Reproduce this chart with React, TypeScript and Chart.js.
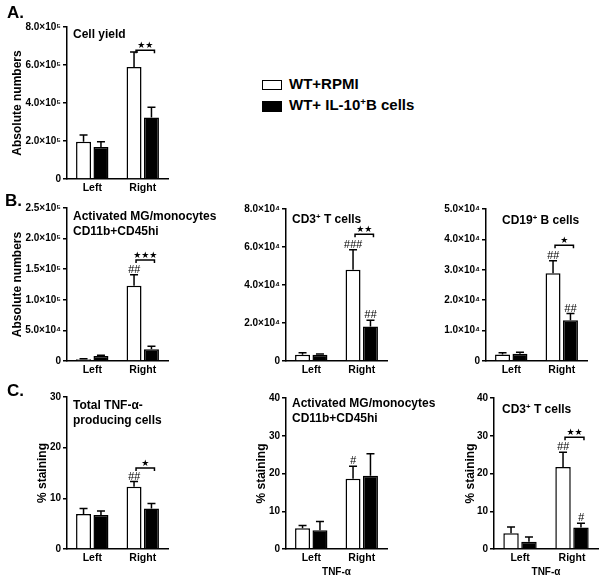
import React, { useEffect, useRef } from "react";
import { Chart, registerables } from "chart.js";

Chart.register(...registerables);

const FONT = "'Liberation Sans', Arial, Helvetica, sans-serif";

// ---------- data ----------
const categories = ["Left", "Right"];
const seriesNames = ["WT+RPMI", "WT+ IL-10+B cells"];

// A. Cell yield
const aRpmi = [1.96e5, 5.9e5];
const aRpmiSem = [0.35e5, 0.79e5];
const aIl10 = [1.68e5, 3.24e5];
const aIl10Sem = [0.28e5, 0.53e5];
const aTickLabels = ["0", "2.0×10⁵", "4.0×10⁵", "6.0×10⁵", "8.0×10⁵"];

// B1. Activated MG/monocytes
const b1Rpmi = [3.0e3, 1.23e5];
const b1RpmiSem = [0.8e3, 1.8e4];
const b1Il10 = [8.0e3, 1.9e4];
const b1Il10Sem = [1.2e3, 5.0e3];
const b1TickLabels = ["0", "5.0×10⁴", "1.0×10⁵", "1.5×10⁵", "2.0×10⁵", "2.5×10⁵"];

// B2. CD3+ T cells
const b2Rpmi = [3.3e3, 4.8e4];
const b2RpmiSem = [1.1e3, 1.06e4];
const b2Il10 = [3.3e3, 1.82e4];
const b2Il10Sem = [0.4e3, 3.2e3];
const b2TickLabels = ["0", "2.0×10⁴", "4.0×10⁴", "6.0×10⁴", "8.0×10⁴"];

// B3. CD19+ B cells
const b3Rpmi = [2.1e3, 2.89e4];
const b3RpmiSem = [0.6e3, 4.1e3];
const b3Il10 = [2.4e3, 1.34e4];
const b3Il10Sem = [0.5e3, 2.2e3];
const b3TickLabels = ["0", "1.0×10⁴", "2.0×10⁴", "3.0×10⁴", "4.0×10⁴", "5.0×10⁴"];

// C1. Total TNF-a producing cells (% staining)
const c1Rpmi = [6.9, 12.3];
const c1RpmiSem = [1.1, 1.0];
const c1Il10 = [6.7, 8.0];
const c1Il10Sem = [0.8, 1.0];
const c1TickLabels = ["0", "10", "20", "30"];

// C2. Activated MG/monocytes TNF-a
const c2Rpmi = [5.5, 18.6];
const c2RpmiSem = [0.7, 3.3];
const c2Il10 = [5.0, 19.4];
const c2Il10Sem = [2.3, 5.8];
const c2TickLabels = ["0", "10", "20", "30", "40"];

// C3. CD3+ T cells TNF-a
const c3Rpmi = [4.2, 21.7];
const c3RpmiSem = [1.6, 3.9];
const c3Il10 = [1.95, 5.7];
const c3Il10Sem = [1.25, 1.1];
const c3TickLabels = ["0", "10", "20", "30", "40"];

type Box = { l: number; t: number; w: number; h: number };
type Area = { l: number; r: number; t: number; b: number };

type PanelProps = {
  box: Box;
  area: Area;
  rpmi: number[];
  rpmiSem: number[];
  il10: number[];
  il10Sem: number[];
  max: number;
  step: number;
  tickLabels: string[];
  yTitle?: { text: string; cx: number };
  xTitle?: string;
  rpmiMarks: string[];
  il10Marks: string[];
  sig?: { y: number; text: string };
};

function Panel(p: PanelProps) {
  const ref = useRef<HTMLCanvasElement | null>(null);
  useEffect(() => {
    if (!ref.current) return;
    const { box, area } = p;
    const annot = {
      id: "annot",
      afterDatasetsDraw(chart: any) {
        const ctx = chart.ctx as CanvasRenderingContext2D;
        const ys = chart.scales.y;
        ctx.save();
        ctx.strokeStyle = "#000";
        ctx.fillStyle = "#000";
        ctx.lineWidth = 1.5;
        const sets: [number[], number[], string[]][] = [
          [p.rpmi, p.rpmiSem, p.rpmiMarks],
          [p.il10, p.il10Sem, p.il10Marks],
        ];
        sets.forEach(([vals, sems, marks], di) => {
          const meta = chart.getDatasetMeta(di);
          meta.data.forEach((bar: any, i: number) => {
            const x = bar.x;
            const yTop = ys.getPixelForValue(vals[i]);
            const yErr = ys.getPixelForValue(vals[i] + sems[i]);
            ctx.beginPath();
            ctx.moveTo(x, yTop);
            ctx.lineTo(x, yErr);
            ctx.moveTo(x - 4, yErr);
            ctx.lineTo(x + 4, yErr);
            ctx.stroke();
            if (marks[i]) {
              ctx.font = `italic 11px ${FONT}`;
              ctx.textAlign = "center";
              ctx.textBaseline = "alphabetic";
              ctx.fillText(marks[i], x, yErr - 2);
            }
          });
        });
        if (p.sig) {
          const b0 = chart.getDatasetMeta(0).data[1];
          const b1 = chart.getDatasetMeta(1).data[1];
          const x0 = b0.x + 2;
          const x1 = b1.x + 3;
          const yb = ys.getPixelForValue(p.sig.y);
          ctx.beginPath();
          ctx.moveTo(x0, yb + 3);
          ctx.lineTo(x0, yb);
          ctx.lineTo(x1, yb);
          ctx.lineTo(x1, yb + 3);
          ctx.stroke();
          ctx.font = `9px 'DejaVu Sans', sans-serif`;
          ctx.textAlign = "center";
          ctx.textBaseline = "alphabetic";
          ctx.fillText(p.sig.text, (x0 + x1) / 2, yb - 2);
        }
        ctx.restore();
      },
    };

    const chart = new Chart(ref.current, {
      type: "bar",
      data: {
        labels: categories,
        datasets: [
          {
            label: seriesNames[0],
            data: p.rpmi,
            backgroundColor: "#ffffff",
            borderColor: "#000000",
            borderWidth: 1.5,
            categoryPercentage: 0.69,
            barPercentage: 0.86,
          },
          {
            label: seriesNames[1],
            data: p.il10,
            backgroundColor: "#000000",
            borderColor: "#000000",
            borderWidth: 1.5,
            categoryPercentage: 0.69,
            barPercentage: 0.86,
          },
        ],
      },
      options: {
        animation: false,
        responsive: false,
        maintainAspectRatio: false,
        devicePixelRatio: 1,
        events: [],
        layout: {
          autoPadding: false,
          padding: {
            left: 0,
            top: area.t - box.t,
            right: box.l + box.w - area.r,
            bottom: 0,
          },
        },
        plugins: {
          legend: { display: false },
          tooltip: { enabled: false },
          title: { display: false },
        },
        scales: {
          x: {
            type: "category",
            offset: true,
            grid: { display: false, drawTicks: false },
            border: { display: true, color: "#000", width: 1.5 },
            ticks: {
              color: "#000",
              font: { family: FONT, size: 10.5, weight: "bold" },
              padding: 3,
              maxRotation: 0,
              autoSkip: false,
            },
            title: p.xTitle
              ? {
                  display: true,
                  text: p.xTitle,
                  color: "#000",
                  font: { family: FONT, size: 10, weight: "bold" },
                  padding: { top: 0, bottom: 4 },
                }
              : { display: false },
            afterFit: (s: any) => {
              s.height = box.t + box.h - area.b;
            },
          },
          y: {
            type: "linear",
            min: 0,
            max: p.max,
            ticks: {
              stepSize: p.step,
              color: "#000",
              font: { family: FONT, size: 10, weight: "bold" },
              padding: 2,
              callback: (_v: any, i: number) => p.tickLabels[i] ?? "",
            },
            grid: {
              drawOnChartArea: false,
              drawTicks: true,
              tickLength: 4,
              color: "#000",
              lineWidth: 1.5,
            },
            border: { display: true, color: "#000", width: 1.5 },
            title: p.yTitle
              ? {
                  display: true,
                  text: p.yTitle.text,
                  color: "#000",
                  font: { family: FONT, size: 12, weight: "bold" },
                  padding: { top: p.yTitle.cx - box.l - 7.2, bottom: 0 },
                }
              : { display: false },
            afterFit: (s: any) => {
              s.width = area.l - box.l;
            },
          },
        },
      } as any,
      plugins: [annot],
    });
    return () => chart.destroy();
  }, []);
  const { box } = p;
  return (
    <canvas
      ref={ref}
      width={box.w}
      height={box.h}
      style={{ position: "absolute", left: box.l, top: box.t, width: box.w, height: box.h }}
    />
  );
}

const sup = (t: string) => (
  <span style={{ fontSize: "0.65em", position: "relative", top: "-0.55em" }}>{t}</span>
);

function Txt(props: { x: number; y: number; size: number; lh?: number; children: any }) {
  return (
    <div
      style={{
        position: "absolute",
        left: props.x,
        top: props.y,
        fontFamily: FONT,
        fontWeight: "bold",
        fontSize: props.size,
        lineHeight: `${props.lh ?? props.size + 3}px`,
        whiteSpace: "nowrap",
        color: "#000",
      }}
    >
      {props.children}
    </div>
  );
}

export default function App() {
  return (
    <div style={{ position: "absolute", left: 0, top: 0, width: 604, height: 582, background: "#fff", overflow: "hidden" }}>
      <Panel
        box={{ l: 0, t: 10, w: 200, h: 185 }}
        area={{ l: 67, r: 168, t: 27, b: 179 }}
        rpmi={aRpmi} rpmiSem={aRpmiSem} il10={aIl10} il10Sem={aIl10Sem}
        max={8e5} step={2e5} tickLabels={aTickLabels}
        yTitle={{ text: "Absolute numbers", cx: 17.5 }}
        rpmiMarks={["", ""]} il10Marks={["", ""]}
        sig={{ y: 6.78e5, text: "★★" }}
      />
      <Panel
        box={{ l: 0, t: 195, w: 200, h: 185 }}
        area={{ l: 67, r: 168, t: 208, b: 361 }}
        rpmi={b1Rpmi} rpmiSem={b1RpmiSem} il10={b1Il10} il10Sem={b1Il10Sem}
        max={2.5e5} step={5e4} tickLabels={b1TickLabels}
        yTitle={{ text: "Absolute numbers", cx: 17.5 }}
        rpmiMarks={["", "##"]} il10Marks={["", ""]}
        sig={{ y: 1.65e5, text: "★★★" }}
      />
      <Panel
        box={{ l: 200, t: 195, w: 200, h: 185 }}
        area={{ l: 286, r: 387, t: 209, b: 361 }}
        rpmi={b2Rpmi} rpmiSem={b2RpmiSem} il10={b2Il10} il10Sem={b2Il10Sem}
        max={8e4} step={2e4} tickLabels={b2TickLabels}
        rpmiMarks={["", "###"]} il10Marks={["", "##"]}
        sig={{ y: 6.67e4, text: "★★" }}
      />
      <Panel
        box={{ l: 400, t: 195, w: 204, h: 185 }}
        area={{ l: 486, r: 587, t: 209, b: 361 }}
        rpmi={b3Rpmi} rpmiSem={b3RpmiSem} il10={b3Il10} il10Sem={b3Il10Sem}
        max={5e4} step={1e4} tickLabels={b3TickLabels}
        rpmiMarks={["", "##"]} il10Marks={["", "##"]}
        sig={{ y: 3.81e4, text: "★" }}
      />
      <Panel
        box={{ l: 0, t: 385, w: 200, h: 197 }}
        area={{ l: 67, r: 168, t: 397, b: 549 }}
        rpmi={c1Rpmi} rpmiSem={c1RpmiSem} il10={c1Il10} il10Sem={c1Il10Sem}
        max={30} step={10} tickLabels={c1TickLabels}
        yTitle={{ text: "% staining", cx: 43 }}
        rpmiMarks={["", "##"]} il10Marks={["", ""]}
        sig={{ y: 16.0, text: "★" }}
      />
      <Panel
        box={{ l: 200, t: 385, w: 200, h: 197 }}
        area={{ l: 286, r: 387, t: 398, b: 549 }}
        rpmi={c2Rpmi} rpmiSem={c2RpmiSem} il10={c2Il10} il10Sem={c2Il10Sem}
        max={40} step={10} tickLabels={c2TickLabels}
        yTitle={{ text: "% staining", cx: 262 }}
        xTitle="TNF-α"
        rpmiMarks={["", "#"]} il10Marks={["", ""]}
      />
      <Panel
        box={{ l: 400, t: 385, w: 204, h: 197 }}
        area={{ l: 494, r: 598, t: 398, b: 549 }}
        rpmi={c3Rpmi} rpmiSem={c3RpmiSem} il10={c3Il10} il10Sem={c3Il10Sem}
        max={40} step={10} tickLabels={c3TickLabels}
        yTitle={{ text: "% staining", cx: 471 }}
        xTitle="TNF-α"
        rpmiMarks={["", "##"]} il10Marks={["", "#"]}
        sig={{ y: 29.6, text: "★★" }}
      />

      {/* panel letters */}
      <Txt x={7} y={3} size={17} lh={20}>A.</Txt>
      <Txt x={5} y={191} size={17} lh={20}>B.</Txt>
      <Txt x={7} y={381} size={17} lh={20}>C.</Txt>

      {/* panel titles */}
      <Txt x={73} y={27} size={12}>Cell yield</Txt>
      <Txt x={73} y={209} size={12} lh={15}>
        Activated MG/monocytes
        <br />
        CD11b+CD45hi
      </Txt>
      <Txt x={292} y={212} size={12}>CD3{sup("+")} T cells</Txt>
      <Txt x={502} y={213} size={12}>CD19{sup("+")} B cells</Txt>
      <Txt x={73} y={398} size={12} lh={15}>
        Total TNF-α-
        <br />
        producing cells
      </Txt>
      <Txt x={292} y={396} size={12} lh={15}>
        Activated MG/monocytes
        <br />
        CD11b+CD45hi
      </Txt>
      <Txt x={502} y={402} size={12}>CD3{sup("+")} T cells</Txt>

      {/* legend */}
      <div style={{ position: "absolute", left: 262, top: 80, width: 20, height: 10, border: "1.5px solid #000", boxSizing: "border-box", background: "#fff" }} />
      <div style={{ position: "absolute", left: 262, top: 101, width: 20, height: 11, background: "#000" }} />
      <Txt x={289} y={75} size={15} lh={18}>{seriesNames[0]}</Txt>
      <Txt x={289} y={96} size={15} lh={18}>
        WT+ IL-10{sup("+")}B cells
      </Txt>
    </div>
  );
}
